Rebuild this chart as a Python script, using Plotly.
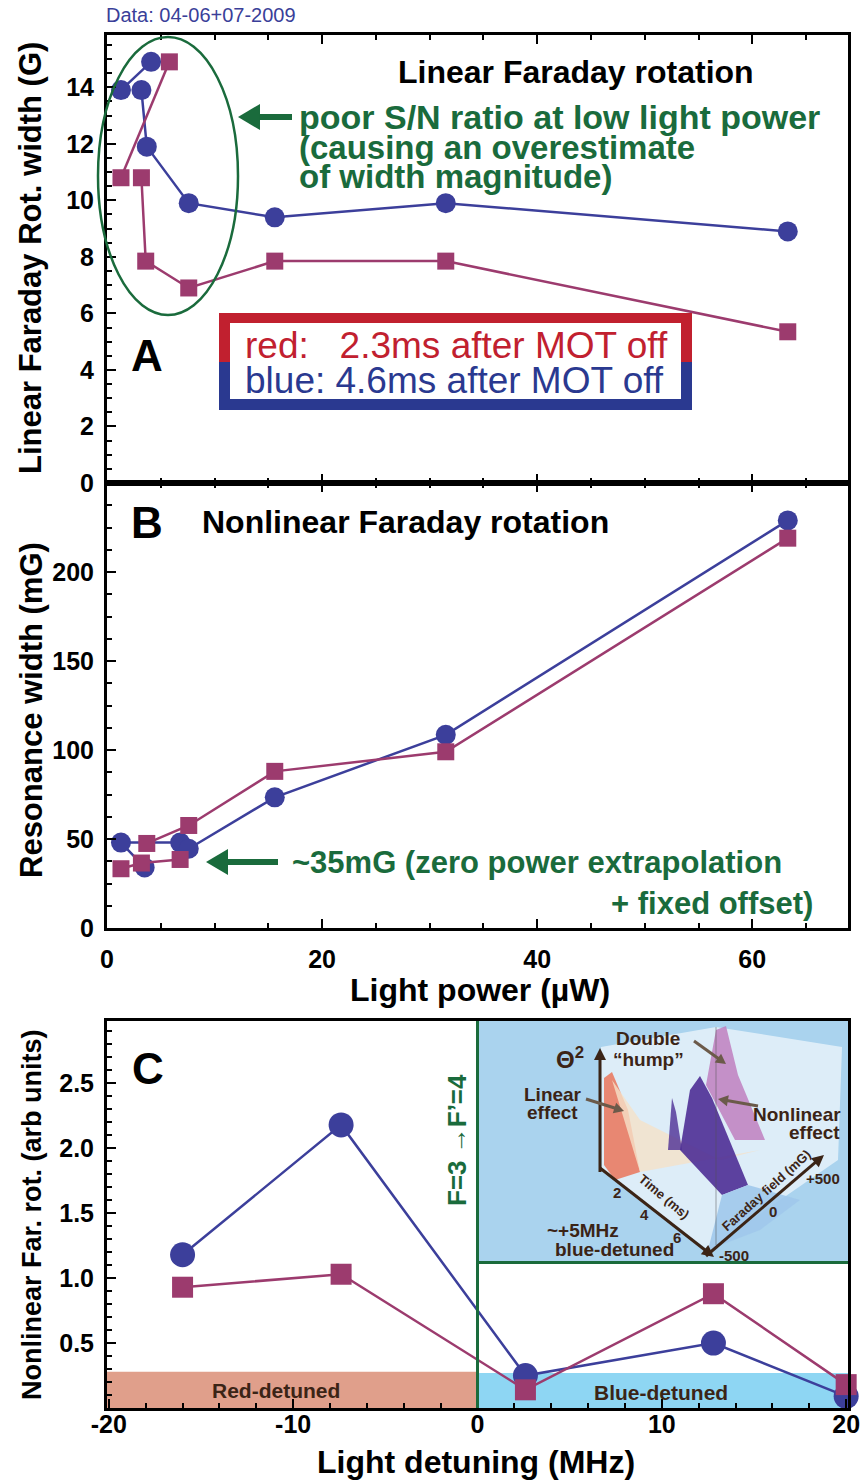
import math
import plotly.graph_objects as go

# ---------------- data ----------------
# Panel A : linear Faraday rotation width (G) vs light power (uW)
power_A_blue = [1.3, 4.1, None, 3.2, 3.7, 7.6, 15.6, 31.5, 63.3]
width_A_blue = [13.9, 14.9, None, 13.9, 11.9, 9.9, 9.4, 9.9, 8.9]
power_A_red = [1.3, 5.8, None, 3.2, 3.6, 7.6, 15.6, 31.5, 63.3]
width_A_red = [10.8, 14.9, None, 10.8, 7.85, 6.9, 7.85, 7.85, 5.35]

# Panel B : nonlinear resonance width (mG) vs light power (uW)
power_B_blue = [3.5, 1.3, 6.8, None, 7.6, 15.6, 31.5, 63.3]
width_B_blue = [34, 48, 48, None, 44.5, 73.4, 108.5, 229]
power_B_red = [1.3, 3.2, 6.8, None, 3.7, 7.6, 15.6, 31.5, 63.3]
width_B_red = [33.3, 36.5, 38.5, None, 47.5, 57.6, 88, 99, 219]

# Panel C : nonlinear Faraday rotation (arb) vs detuning (MHz)
detuning = [-16.0, -7.4, 2.6, 12.8, 20.0]
nfr_blue = [1.18, 2.18, 0.25, 0.50, 0.09]
nfr_red = [0.93, 1.03, 0.14, 0.88, 0.18]

power_ticks = [0, 20, 40, 60]
A_ticks = [0, 2, 4, 6, 8, 10, 12, 14]
B_ticks = [0, 50, 100, 150, 200]
C_xticks = [-20, -10, 0, 10, 20]
C_xticklabels = ["-20", "-10", "0", "10", "20"]
C_yticks = [0.5, 1.0, 1.5, 2.0, 2.5]
C_yticklabels = ["0.5", "1.0", "1.5", "2.0", "2.5"]

# ---------------- style ----------------
W, H = 862, 1482
BLUE = "#3C3F9B"
RED = "#9C3B6E"
GREEN = "#1A6B3C"
BROWN = "#3B2416"
SANS = "Liberation Sans, Arial, Helvetica"


def px(x):
    return x / W


def py(y):
    return 1 - y / H


fig = go.Figure()


def series(x, y, color, symbol, size, xa, ya):
    fig.add_trace(go.Scatter(
        x=x, y=y, xaxis=xa, yaxis=ya, mode="lines+markers",
        line=dict(color=color, width=2.5), connectgaps=False,
        marker=dict(symbol=symbol, size=size, color=color, line=dict(width=0)),
        cliponaxis=False, hoverinfo="skip"))


series(power_A_blue, width_A_blue, BLUE, "circle", 20, "x", "y")
series(power_A_red, width_A_red, RED, "square", 17, "x", "y")
series(power_B_blue, width_B_blue, BLUE, "circle", 20, "x2", "y2")
series(power_B_red, width_B_red, RED, "square", 17, "x2", "y2")
series(detuning, nfr_blue, BLUE, "circle", 25, "x3", "y3")
series(detuning, nfr_red, RED, "square", 21, "x3", "y3")

tickfont = dict(family=SANS, size=25, color="black", weight="bold")


def axis(**kw):
    d = dict(showgrid=False, zeroline=False, showline=True, linecolor="black",
             linewidth=3, ticks="inside", tickcolor="black", tickwidth=2,
             ticklen=9, tickfont=tickfont, fixedrange=True, automargin=False)
    d.update(kw)
    return d


def minor(dt):
    return dict(dtick=dt, ticks="inside", ticklen=5, tickwidth=2, tickcolor="black")


xdom = [px(107), px(848)]
fig.update_layout(
    width=W, height=H, margin=dict(l=0, r=0, t=0, b=0, autoexpand=False),
    paper_bgcolor="white", plot_bgcolor="white", showlegend=False,
    xaxis=axis(domain=xdom, anchor="y", range=[0, 68.9], tickvals=power_ticks,
               showticklabels=False, mirror="ticks", minor=minor(5)),
    yaxis=axis(domain=[py(483), py(35)], anchor="x", range=[0, 15.85], tickvals=A_ticks,
               mirror=True, ticklabelstandoff=5, minor=minor(0.5)),
    xaxis2=axis(domain=xdom, anchor="y2", range=[0, 68.9], tickvals=power_ticks,
                mirror="ticks", ticklabelstandoff=7, minor=minor(5)),
    yaxis2=axis(domain=[py(928), py(483)], anchor="x2", range=[0, 250], tickvals=B_ticks,
                mirror=True, ticklabelstandoff=5, minor=minor(12.5)),
    xaxis3=axis(domain=xdom, anchor="y3", range=[-20.1, 20.1], tickvals=C_xticks,
                ticktext=C_xticklabels, mirror=True, ticklabelstandoff=-8, minor=minor(2)),
    yaxis3=axis(domain=[py(1408), py(1021)], anchor="x3", range=[0, 2.98], tickvals=C_yticks,
                ticktext=C_yticklabels, mirror=True, ticklabelstandoff=5, minor=minor(0.1)),
)

shapes = []
annots = []


def text(t, x, y, size, color="black", family=SANS, weight="bold",
         xanchor="center", yanchor="middle", angle=0):
    annots.append(dict(text=t, x=px(x), y=py(y), xref="paper", yref="paper",
                       showarrow=False, xanchor=xanchor, yanchor=yanchor,
                       textangle=angle,
                       font=dict(family=family, size=size, color=color, weight=weight)))


def poly(points, fill, line="rgba(0,0,0,0)", lw=0, opacity=1.0):
    p = "M " + " L ".join(f"{px(a):.5f},{py(b):.5f}" for a, b in points) + " Z"
    shapes.append(dict(type="path", path=p, xref="paper", yref="paper",
                       fillcolor=fill, line=dict(color=line, width=lw), opacity=opacity))


def arrow(tipx, tipy, tailx, taily, color, width, headlen, headwid):
    dx, dy = tipx - tailx, tipy - taily
    L = math.hypot(dx, dy)
    ux, uy = dx / L, dy / L
    bx, by = tipx - ux * headlen, tipy - uy * headlen
    shapes.append(dict(type="line", xref="paper", yref="paper",
                       x0=px(tailx), y0=py(taily), x1=px(bx + ux), y1=py(by + uy),
                       line=dict(color=color, width=width)))
    nx, ny = -uy, ux
    poly([(tipx, tipy), (bx + nx * headwid / 2, by + ny * headwid / 2),
          (bx - nx * headwid / 2, by - ny * headwid / 2)], color)


# ---- panel C background bands / inset ----
shapes.append(dict(type="rect", xref="x3", yref="y3", x0=-20.1, x1=0, y0=0, y1=0.28,
                   fillcolor="#E09F8B", line=dict(width=0), layer="below"))
shapes.append(dict(type="rect", xref="x3", yref="y3", x0=0, x1=20.1, y0=0, y1=0.27,
                   fillcolor="#8ED6F3", line=dict(width=0), layer="below"))
shapes.append(dict(type="rect", xref="x3", yref="y3", x0=0, x1=20.1, y0=1.12, y1=2.98,
                   fillcolor="#AAD3EE", line=dict(width=0), layer="below"))
shapes.append(dict(type="line", xref="x3", yref="y3", x0=0, x1=20.1, y0=1.12, y1=1.12,
                   line=dict(color=GREEN, width=3)))
shapes.append(dict(type="line", xref="x3", yref="y3", x0=0, x1=0, y0=0, y1=2.98,
                   line=dict(color=GREEN, width=3)))

# inset 3D surface sketch
poly([(601, 1047), (716, 1027), (842, 1047), (838, 1160), (708, 1250), (602, 1170)],
     "rgba(255,255,255,0.6)")
poly([(604, 1165), (604, 1078), (612, 1072), (628, 1110), (640, 1172), (615, 1180)],
     "#E8826A", opacity=0.95)
poly([(612, 1080), (640, 1120), (680, 1140), (720, 1160), (760, 1150), (640, 1172)],
     "rgba(245,225,200,0.8)")
poly([(706, 1085), (716, 1030), (726, 1026), (738, 1075), (765, 1140), (735, 1140)],
     "#C07FC0", opacity=0.85)
poly([(680, 1150), (690, 1090), (700, 1076), (712, 1098), (748, 1185), (722, 1195)],
     "#4E2E95", opacity=0.9)
poly([(668, 1150), (672, 1098), (676, 1112), (682, 1150)], "#4E2E95", opacity=0.8)
poly([(722, 1195), (748, 1185), (800, 1200), (760, 1230), (708, 1250)],
     "rgba(160,200,235,0.9)")
shapes.append(dict(type="line", xref="paper", yref="paper",
                   x0=px(716), y0=py(1027), x1=px(716), y1=py(1245),
                   line=dict(color="rgba(80,80,80,0.5)", width=1)))

arrow(600, 1048, 600, 1172, BROWN, 3, 12, 12)
arrow(714, 1257, 600, 1168, BROWN, 3, 12, 12)
arrow(824, 1155, 706, 1256, BROWN, 3, 12, 12)
arrow(624, 1111, 586, 1099, "#6B5A4A", 3, 10, 11)
arrow(726, 1064, 694, 1041, "#6B5A4A", 3, 10, 11)
arrow(718, 1099, 758, 1106, "#6B5A4A", 3, 10, 11)

text("Θ<sup>2</sup>", 570, 1058, 24, BROWN)
text("Double", 648, 1038, 19, BROWN)
text("“hump”", 648, 1059, 19, BROWN)
text("Linear", 553, 1094, 19, BROWN)
text("effect", 552, 1112, 19, BROWN)
text("Nonlinear", 797, 1114, 19, BROWN)
text("effect", 814, 1132, 19, BROWN)
text("~+5MHz", 583, 1230, 19, BROWN)
text("blue-detuned", 614, 1249, 19, BROWN)
text("2", 617, 1192, 15, BROWN)
text("4", 644, 1214, 15, BROWN)
text("6", 677, 1237, 15, BROWN)
text("Time (ms)", 664, 1196, 13, BROWN, angle=40)
text("Faraday field (mG)", 766, 1190, 13, BROWN, angle=-42)
text("+500", 823, 1178, 15, BROWN)
text("0", 773, 1211, 15, BROWN)
text("-500", 734, 1255, 15, BROWN)

text("F=3 →F’=4", 457, 1140, 26, GREEN, angle=-90)
text("Red-detuned", 276, 1390, 21, BROWN)
text("Blue-detuned", 661, 1392, 21, BROWN)
text("C", 148, 1068, 44, "black")

# ---- panel A annotations ----
shapes.append(dict(type="circle", xref="paper", yref="paper",
                   x0=px(98), x1=px(238), y0=py(315), y1=py(37),
                   line=dict(color=GREEN, width=2.5)))
arrow(238, 117, 292, 117, GREEN, 6, 22, 26)
text("Linear Faraday rotation", 576, 72, 32, "black")
text("poor S/N ratio at low light power", 297, 117, 34, GREEN, xanchor="left")
text("(causing an overestimate", 297, 147, 33, GREEN, xanchor="left")
text("of width magnitude)", 297, 177, 33, GREEN, xanchor="left")
text("A", 147, 355, 44, "black")

shapes.append(dict(type="rect", xref="paper", yref="paper", x0=px(219), x1=px(692),
                   y0=py(362), y1=py(313), fillcolor="#C1202F", line=dict(width=0)))
shapes.append(dict(type="rect", xref="paper", yref="paper", x0=px(219), x1=px(692),
                   y0=py(410), y1=py(362), fillcolor="#2A3990", line=dict(width=0)))
shapes.append(dict(type="rect", xref="paper", yref="paper", x0=px(230), x1=px(681),
                   y0=py(399), y1=py(323), fillcolor="white", line=dict(width=0)))
text("red:   2.3ms after MOT off", 243, 345, 37, "#C1202F", weight="normal", xanchor="left")
text("blue: 4.6ms after MOT off", 243, 381, 37, "#2A3990", weight="normal", xanchor="left")

text("Data: 04-06+07-2009", 104, 15, 20, "#3A3F99", weight="normal", xanchor="left")

# ---- panel B annotations ----
text("B", 147, 522, 44, "black")
text("Nonlinear Faraday rotation", 200, 522, 32, "black", xanchor="left")
arrow(206, 862, 278, 862, GREEN, 6, 22, 26)
text("~35mG (zero power extrapolation", 290, 862, 31, GREEN, xanchor="left")
text("+ fixed offset)", 815, 903, 31, GREEN, xanchor="right")

# ---- axis titles ----
text("Linear Faraday Rot. width (G)", 31, 258, 31, angle=-90)
text("Resonance width (mG)", 31, 710, 31, angle=-90)
text("Light power (µW)", 480, 990, 32)
text("Nonlinear Far. rot. (arb units)", 32, 1215, 27, angle=-90)
text("Light detuning (MHz)", 476, 1462, 32)

fig.update_layout(shapes=shapes, annotations=annots)
fig.write_html("out.html")
